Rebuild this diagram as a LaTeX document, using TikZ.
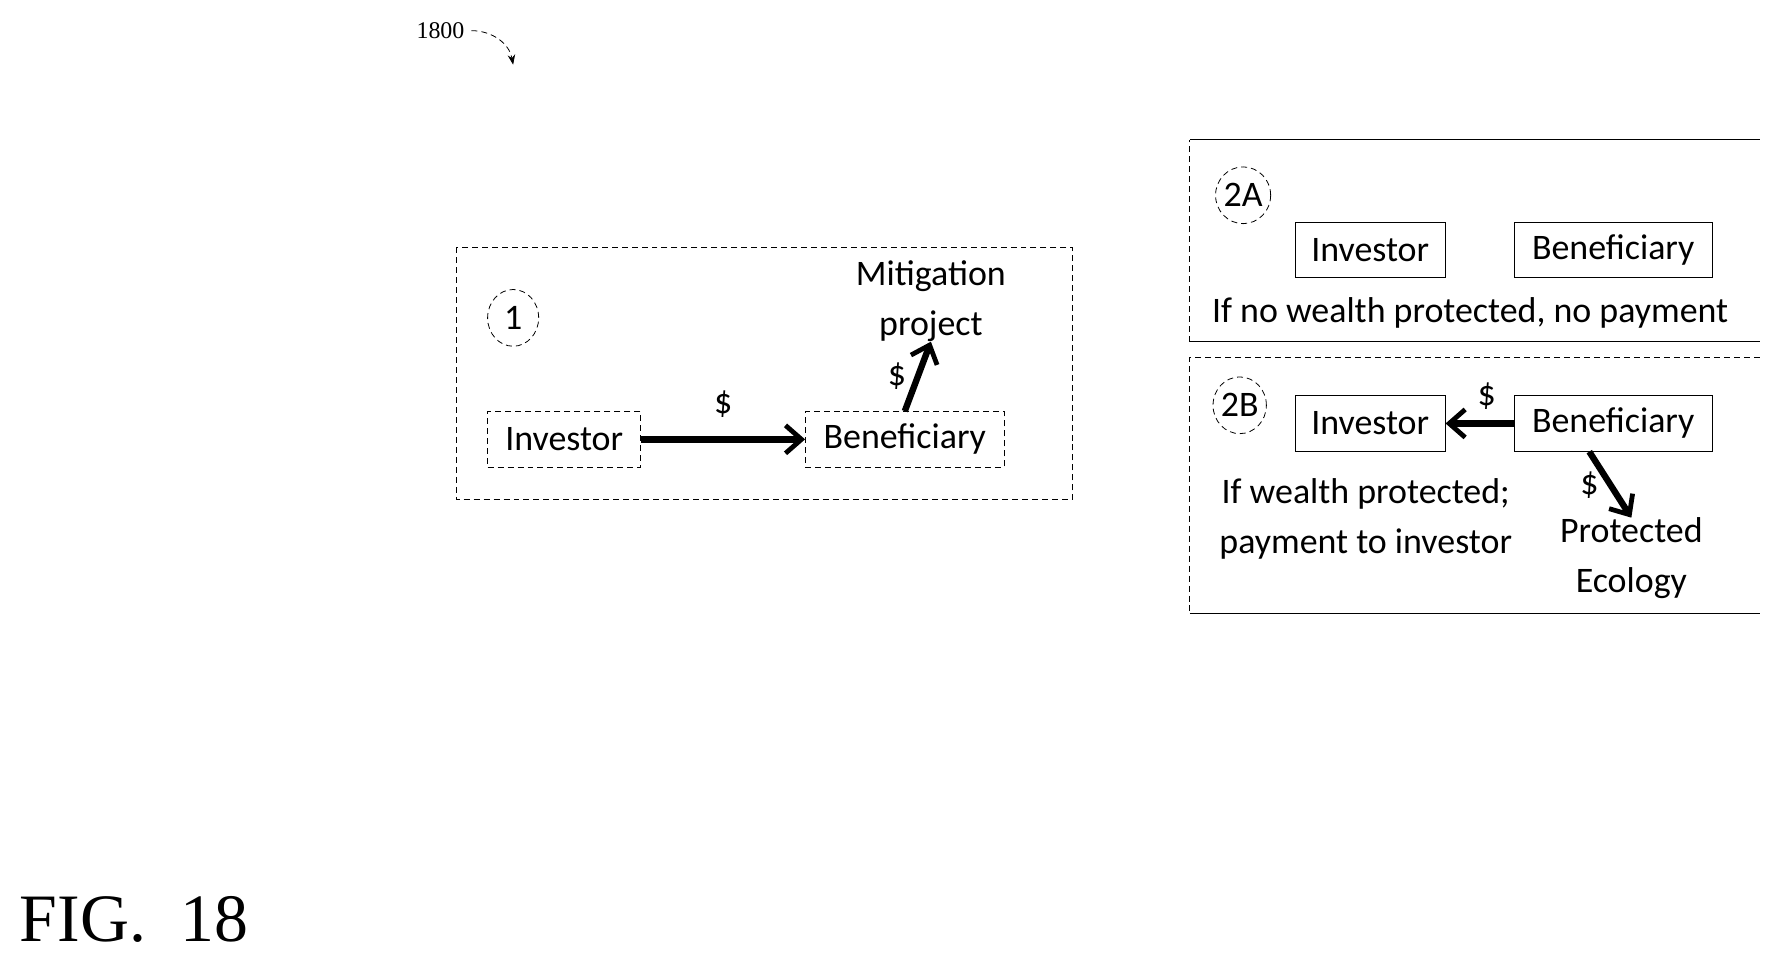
\documentclass[tikz,border=0pt]{standalone}
\usepackage{fontspec}
\setmainfont{Carlito}
\newfontfamily\figfont{Liberation Serif}
\usetikzlibrary{positioning,arrows.meta,shapes}
\tikzstyle{pbox}=[rectangle, draw=black, densely dashed, minimum height=0.98cm, inner sep=0pt, font=\fontsize{18}{21}\selectfont]
\tikzstyle{sbox}=[rectangle, draw=black, minimum height=0.98cm, inner sep=0pt, font=\fontsize{18}{21}\selectfont]
\tikzstyle{tbox}=[align=center, inner sep=0pt, font=\fontsize{18}{25}\selectfont]
\tikzstyle{num}=[ellipse, draw=black, densely dashed, minimum width=0.9cm, minimum height=1.0cm, inner sep=0pt, font=\fontsize{18}{21}\selectfont]
\tikzstyle{pline}=[line width=3.2pt, -{Straight Barb[length=8pt,width=14pt,line width=2.4pt]}]
\tikzstyle{frame}=[densely dashed, thin]
\begin{document}
\begin{tikzpicture}[x=0.02cm,y=-0.02cm]
\useasboundingbox (0,0) rectangle (1560,845);

\node (REF) [font=\figfont\fontsize{12}{14}\selectfont] at (388,27) {1800};
\coordinate (REFend) at (452,57);
\draw[densely dashed, -{Stealth[length=5pt]}] (REF.east) to[out=0,in=100] (REFend);

% scenario 1
\draw[frame] (402,218) rectangle (945,440);
\node (ONE) [num] at (452,280) {1};
\node (INV) [pbox, minimum width=2.7cm] at (497,387) {Investor};
\node (BEN) [pbox, minimum width=3.5cm] at (797,387) {Beneficiary};
\node (MIT) [tbox] at (820,265) {Mitigation\\project};
\draw[pline] (INV.east) -- (BEN.west) node[midway, above=6pt, font=\fontsize{18}{21}\selectfont] {\$};
\draw[pline] (BEN.north) -- (MIT.south) node[midway, left=1pt, font=\fontsize{18}{21}\selectfont] {\$};

% scenario 2A
\draw[frame] (1048,301) -- (1048,123);
\draw[thick] (1048,123) -- (1550,123);
\draw (1048,301) -- (1550,301);
\node (TWOA) [num] at (1095,172) {2A};
\node (INVa) [sbox, minimum width=2.64cm] at (1207,220) {Investor};
\node (BENa) [sbox, minimum width=3.48cm] at (1421,220) {Beneficiary};
\node (NOPAY) [tbox] at (1295,276) {If no wealth protected, no payment};

% scenario 2B
\draw[frame] (1550,315) -- (1048,315) -- (1048,540);
\draw (1048,540) -- (1550,540);
\node (TWOB) [num] at (1092,357) {2B};
\node (INVb) [sbox, minimum width=2.64cm] at (1207,373) {Investor};
\node (BENb) [sbox, minimum width=3.48cm] at (1421,373) {Beneficiary};
\node (PAY) [tbox] at (1203,457) {If wealth protected;\\payment to investor};
\node (ECO) [tbox] at (1437,492) {Protected\\Ecology};
\draw[pline] (BENb.west) -- (INVb.east) node[midway, above right=2pt and -6pt, font=\fontsize{18}{21}\selectfont] {\$};
\draw[pline] ([xshift=-12pt]BENb.south) -- (ECO.north) node[midway, left=1pt, font=\fontsize{18}{21}\selectfont] {\$};

\node (FIG) [font=\figfont\fontsize{34}{40}\selectfont] at (118,810) {FIG.\ \ 18};
\end{tikzpicture}
\end{document}
